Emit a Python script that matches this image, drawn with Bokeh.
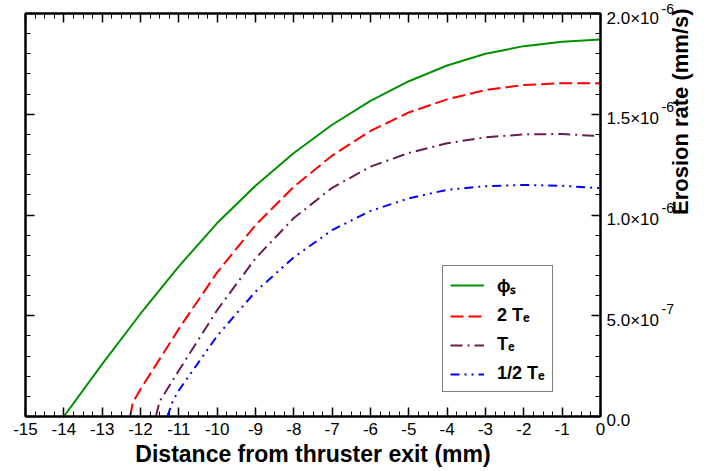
import math
from bokeh.plotting import figure
from bokeh.models import (Range1d, LinearAxis, FixedTicker, CustomJSTickFormatter,
                          CustomLabelingPolicy, Legend, LegendItem)
from bokeh.embed import file_html
from bokeh.resources import INLINE

# Axis ticks and labels
x_ticks = list(range(-15, 1))
x_minor = [-15 + 0.25 * i for i in range(61)]
y_ticks = [0.0, 5e-7, 1e-6, 1.5e-6, 2e-6]
y_minor = [1e-7 * i for i in range(21)]
y_tick_mantissa = ["0.0", "5.0×10", "1.0×10", "1.5×10", "2.0×10"]
y_tick_exponent = ["", "-7", "-6", "-6", "-6"]

# Erosion rate (mm/s) vs distance from thruster exit (mm)
phi_x = [-14, -13, -12, -11, -10, -9, -8, -7, -6, -5, -4, -3, -2, -1, 0]
phi_y = [0.0, 0.26e-6, 0.51e-6, 0.745e-6, 0.96e-6, 1.145e-6, 1.308e-6, 1.448e-6,
         1.566e-6, 1.664e-6, 1.742e-6, 1.80e-6, 1.838e-6, 1.86e-6, 1.871e-6]

te2_x = [-12.27, -12.2, -12, -11, -10, -9, -8, -7, -6, -5, -4, -3, -2, -1, 0]
te2_y = [0.0, 0.07e-6, 0.135e-6, 0.435e-6, 0.715e-6, 0.95e-6, 1.14e-6, 1.295e-6,
         1.417e-6, 1.509e-6, 1.574e-6, 1.62e-6, 1.645e-6, 1.654e-6, 1.654e-6]

te_x = [-11.6, -11.5, -11, -10, -9, -8, -7, -6, -5, -4, -3, -2, -1, 0]
te_y = [0.0, 0.075e-6, 0.228e-6, 0.528e-6, 0.785e-6, 0.985e-6, 1.135e-6, 1.24e-6,
        1.308e-6, 1.356e-6, 1.386e-6, 1.40e-6, 1.402e-6, 1.391e-6]

teh_x = [-11.3, -11.16, -11, -10, -9, -8, -7, -6, -5, -4, -3, -2, -1, 0]
teh_y = [0.0, 0.075e-6, 0.13e-6, 0.40e-6, 0.62e-6, 0.79e-6, 0.925e-6, 1.02e-6,
         1.083e-6, 1.125e-6, 1.143e-6, 1.149e-6, 1.145e-6, 1.133e-6]

FONT = "Liberation Sans"

p = figure(width=708, height=471, output_backend="svg", toolbar_location=None,
           x_range=Range1d(-15, 0), y_range=Range1d(0, 2e-6),
           x_axis_location=None, y_axis_location=None,
           min_border_left=25, min_border_right=10, min_border_top=13,
           min_border_bottom=55)
p.grid.visible = False
p.outline_line_color = "black"
p.outline_line_width = 2
p.background_fill_color = "white"
p.border_fill_color = "white"


def style_axis(ax):
    ax.axis_line_color = "black"
    ax.axis_line_width = 2
    ax.major_tick_in = 9
    ax.major_tick_out = 0
    ax.minor_tick_in = 5
    ax.minor_tick_out = 0
    ax.major_tick_line_width = 1.5
    ax.minor_tick_line_width = 1
    ax.major_label_text_font = FONT
    ax.major_label_text_font_size = "17px"
    ax.major_label_text_color = "black"
    ax.axis_label_text_font = FONT
    ax.axis_label_text_font_style = "bold"
    ax.axis_label_text_font_size = "22px"
    ax.axis_label_text_color = "black"


def ticks_only(ax):
    # frame axis: inward ticks, no tick labels
    style_axis(ax)
    ax.formatter = CustomJSTickFormatter(code="return '';")
    ax.major_label_policy = CustomLabelingPolicy(code="return []")
    ax.major_label_text_font_size = "1px"
    ax.major_label_standoff = 0


x_ticker = FixedTicker(ticks=x_ticks, minor_ticks=x_minor)
y_ticker = FixedTicker(ticks=y_ticks, minor_ticks=y_minor)

bottom = LinearAxis(ticker=x_ticker, axis_label="Distance from thruster exit (mm)")
style_axis(bottom)
bottom.axis_label_text_font_size = "23px"
bottom.major_label_standoff = 6
bottom.axis_label_standoff = 3
bottom.formatter = CustomJSTickFormatter(code="return String(Math.round(tick));")
p.add_layout(bottom, "below")

top = LinearAxis(ticker=x_ticker)
ticks_only(top)
p.add_layout(top, "above")

left = LinearAxis(ticker=y_ticker)
ticks_only(left)
p.add_layout(left, "left")

# mantissas, set a few pixels below their ticks by an empty first line
right = LinearAxis(ticker=y_ticker)
style_axis(right)
right.major_label_standoff = 6
right.major_label_text_line_height = 0.47
right.formatter = CustomJSTickFormatter(
    args=dict(labels=y_tick_mantissa),
    code="return ' \\n' + labels[Math.round(tick / 5e-7)];")
p.add_layout(right, "right")

# powers of ten, raised above each mantissa
exponent = LinearAxis(ticker=FixedTicker(ticks=y_ticks[1:]),
                      axis_label="Erosion rate (mm/s)")
style_axis(exponent)
exponent.axis_line_color = None
exponent.major_tick_line_color = None
exponent.minor_tick_line_color = None
exponent.major_label_text_font_size = "14px"
exponent.major_label_text_line_height = 0.85
exponent.major_label_standoff = 0
exponent.axis_label_standoff = 4
exponent.axis_label_text_line_height = 0.7
exponent.axis_label_orientation = math.pi / 2
exponent.formatter = CustomJSTickFormatter(
    args=dict(labels=y_tick_exponent),
    code="return labels[Math.round(tick / 5e-7)] + '\\n ';")
p.add_layout(exponent, "right")

r_phi = p.line(phi_x, phi_y, line_color="#009100", line_width=2)
r_te2 = p.line(te2_x, te2_y, line_color="#ff0000", line_width=2, line_dash="13 5")
r_te = p.line(te_x, te_y, line_color="#6a1a55", line_width=2, line_dash="12 5 2 5")
r_teh = p.line(teh_x, teh_y, line_color="#0000ff", line_width=2,
               line_dash="9 5 2 5 2 5")

legend = Legend(items=[
    LegendItem(label="ϕₛ", renderers=[r_phi]),
    LegendItem(label="2 Tₑ", renderers=[r_te2]),
    LegendItem(label="Tₑ", renderers=[r_te]),
    LegendItem(label="1/2 Tₑ", renderers=[r_teh]),
], location=(417, 24))
legend.label_text_font = FONT
legend.label_text_font_style = "bold"
legend.label_text_font_size = "18px"
legend.label_text_color = "black"
legend.glyph_width = 34
legend.glyph_height = 20
legend.label_height = 20
legend.label_standoff = 13
legend.spacing = 8
legend.padding = 7
legend.margin = 0
legend.border_line_color = "black"
legend.border_line_width = 1.5
legend.background_fill_color = "white"
legend.background_fill_alpha = 1.0
p.add_layout(legend, "center")

open("out.html", "w").write(file_html(p, INLINE))
